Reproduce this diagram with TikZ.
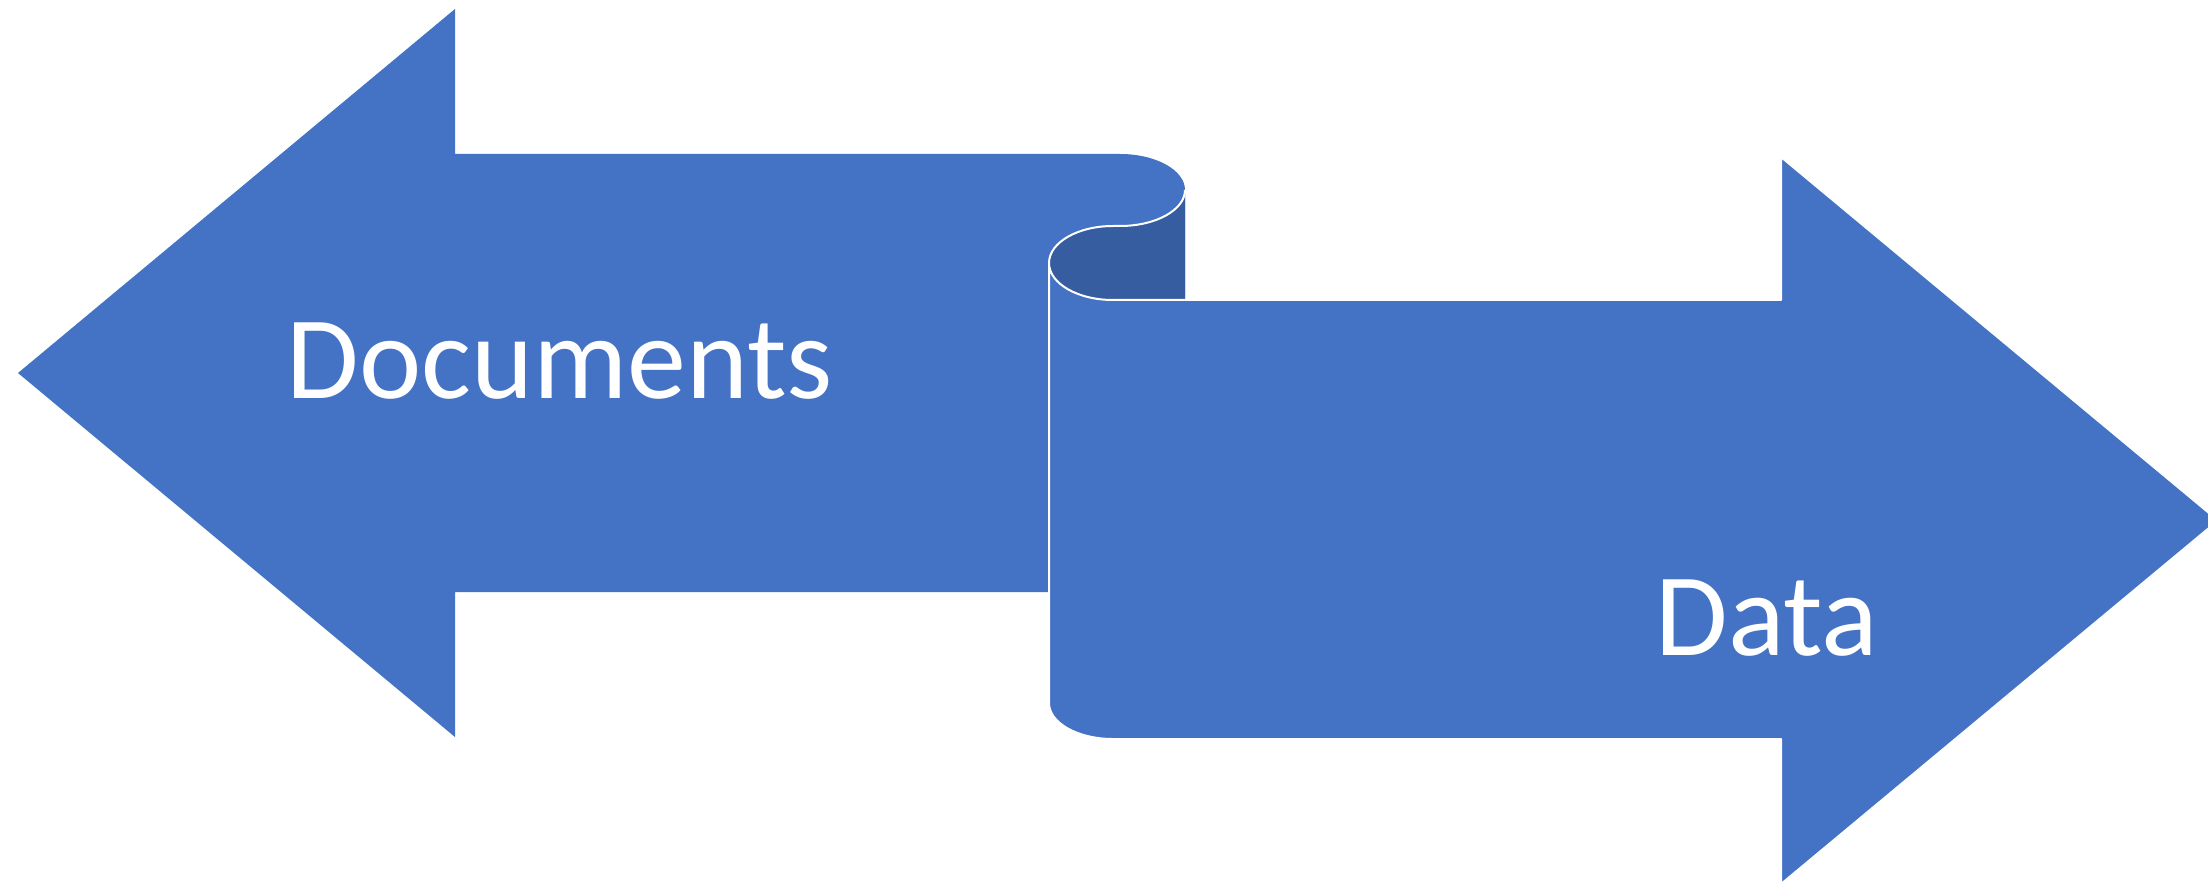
\documentclass[tikz,border=0pt]{standalone}
\usepackage{fontspec}
\setmainfont{Carlito}
\definecolor{arrowblue}{HTML}{4472C4}
\definecolor{curldark}{HTML}{365D9F}
\begin{document}
\begin{tikzpicture}[x=1pt,y=-1pt,
  blueshape/.style={fill=arrowblue},
  darkshape/.style={fill=curldark},
  outline/.style={draw=white, line width=2pt, line join=round},
  arrowlabel/.style={text=white, font=\fontsize{118}{140}\selectfont, inner sep=0pt, anchor=base}]
\useasboundingbox (0,0) rectangle (2208,885);
\clip (0,0) rectangle (2208,885);
\fill[white] (0,0) rectangle (2208,885);
% left arrow (Documents)
\path[blueshape] (18,373) -- (455,9) -- (455,154) -- (1120,154)
  arc[start angle=-90, end angle=0, x radius=65, y radius=36]
  -- (1185,300) -- (1049,300) -- (1049,592) -- (455,592) -- (455,737) -- cycle;
% dark inner face of the curl
\path[darkshape] (1185,190) arc[start angle=0, end angle=90, x radius=65, y radius=36]
  -- (1113,226) arc[start angle=-90, end angle=-270, x radius=64, y radius=37]
  -- (1185,300) -- cycle;
% right arrow (Data)
\path[blueshape, outline] (1049,263) -- (1049,703)
  arc[start angle=180, end angle=90, x radius=64, y radius=36]
  -- (1781,739) -- (1781,884) -- (2218,520.5) -- (1781,157) -- (1781,300) -- (1113,300)
  arc[start angle=90, end angle=180, x radius=64, y radius=37] -- cycle;
% white edge of the curl
\draw[outline] (1185,190) arc[start angle=0, end angle=90, x radius=65, y radius=36]
  -- (1113,226) arc[start angle=-90, end angle=-180, x radius=64, y radius=37];
% labels
\node[arrowlabel] (documents) at (560,398) {Documents};
\node[arrowlabel] (data) at (1767,655) {Data};
\end{tikzpicture}
\end{document}
